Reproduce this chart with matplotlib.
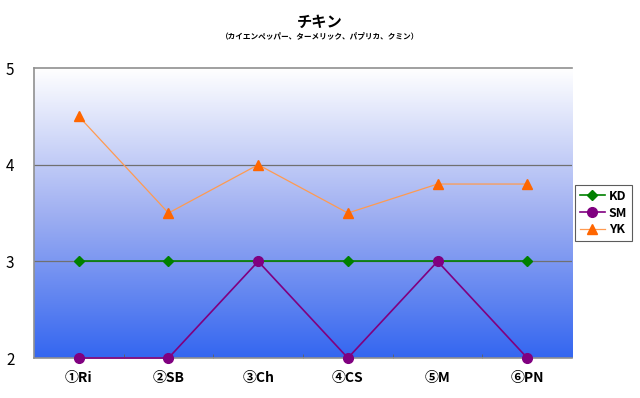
import numpy as np
import matplotlib.pyplot as plt
from matplotlib.colors import LinearSegmentedColormap

plt.rcParams['font.family'] = ['Noto Sans CJK JP', 'DejaVu Sans']

categories = ['①Ri', '②SB', '③Ch', '④CS', '⑤M', '⑥PN']
kd = [3, 3, 3, 3, 3, 3]
sm = [2, 2, 3, 2, 3, 2]
yk = [4.5, 3.5, 4.0, 3.5, 3.8, 3.8]

fig = plt.figure(figsize=(6.4, 3.98), dpi=100)
ax = fig.add_axes([0.053, 0.1005, 0.841, 0.7285])

# background gradient, white at top to blue at bottom
cmap = LinearSegmentedColormap.from_list('bg', ['#3466f0', '#a0b0f2', '#ffffff'])
grad = np.linspace(0, 1, 256).reshape(-1, 1)
ax.imshow(grad, aspect='auto', cmap=cmap, origin='lower',
          extent=[0, 1, 0, 1], transform=ax.transAxes, zorder=0)

x = np.arange(len(categories))
for yv in [3, 4]:
    ax.axhline(yv, color='#707070', lw=0.9, zorder=1)

ax.plot(x, kd, color='#008000', marker='D', ms=5, lw=1.2, label='KD',
        zorder=3, clip_on=False)
ax.plot(x, sm, color='#800080', marker='o', ms=7, lw=1.2, label='SM',
        zorder=3, clip_on=False)
ax.plot(x, yk, color='#ff9a50', marker='^', ms=7, lw=0.9,
        markerfacecolor='#ff6600', markeredgecolor='#ff6600', label='YK',
        zorder=4, clip_on=False)

ax.set_xlim(-0.5, 5.5)
ax.set_ylim(2, 5)
ax.set_yticks([2, 3, 4, 5])
ax.set_xticks(x)
ax.set_xticklabels(categories, fontsize=10, fontweight='bold')
ax.set_xticks(np.arange(0.5, 5, 1), minor=True)
ax.tick_params(axis='x', which='major', length=0, pad=9)
ax.tick_params(axis='x', which='minor', length=3, direction='in', color='#606060')
ax.tick_params(axis='y', length=0, pad=14, labelsize=11)
for s in ax.spines.values():
    s.set_color('#909090')
    s.set_linewidth(1.2)
ax.spines['right'].set_visible(False)

leg = ax.legend(loc='center left', bbox_to_anchor=(1.005, 0.5), frameon=True,
                fancybox=False, fontsize=9, handlelength=2.0, handletextpad=0.3,
                borderpad=0.4, labelspacing=0.3, borderaxespad=0)
leg.get_frame().set_edgecolor('#333333')
leg.get_frame().set_linewidth(0.8)
for t in leg.get_texts():
    t.set_fontweight('bold')

fig.text(0.5, 0.945, 'チキン', ha='center', va='center', fontsize=11, fontweight='bold')
fig.text(0.5, 0.91, '（カイエンペッパー、ターメリック、パプリカ、クミン）',
         ha='center', va='center', fontsize=5.5, fontweight='bold')

fig.savefig('out.png', dpi=100)
